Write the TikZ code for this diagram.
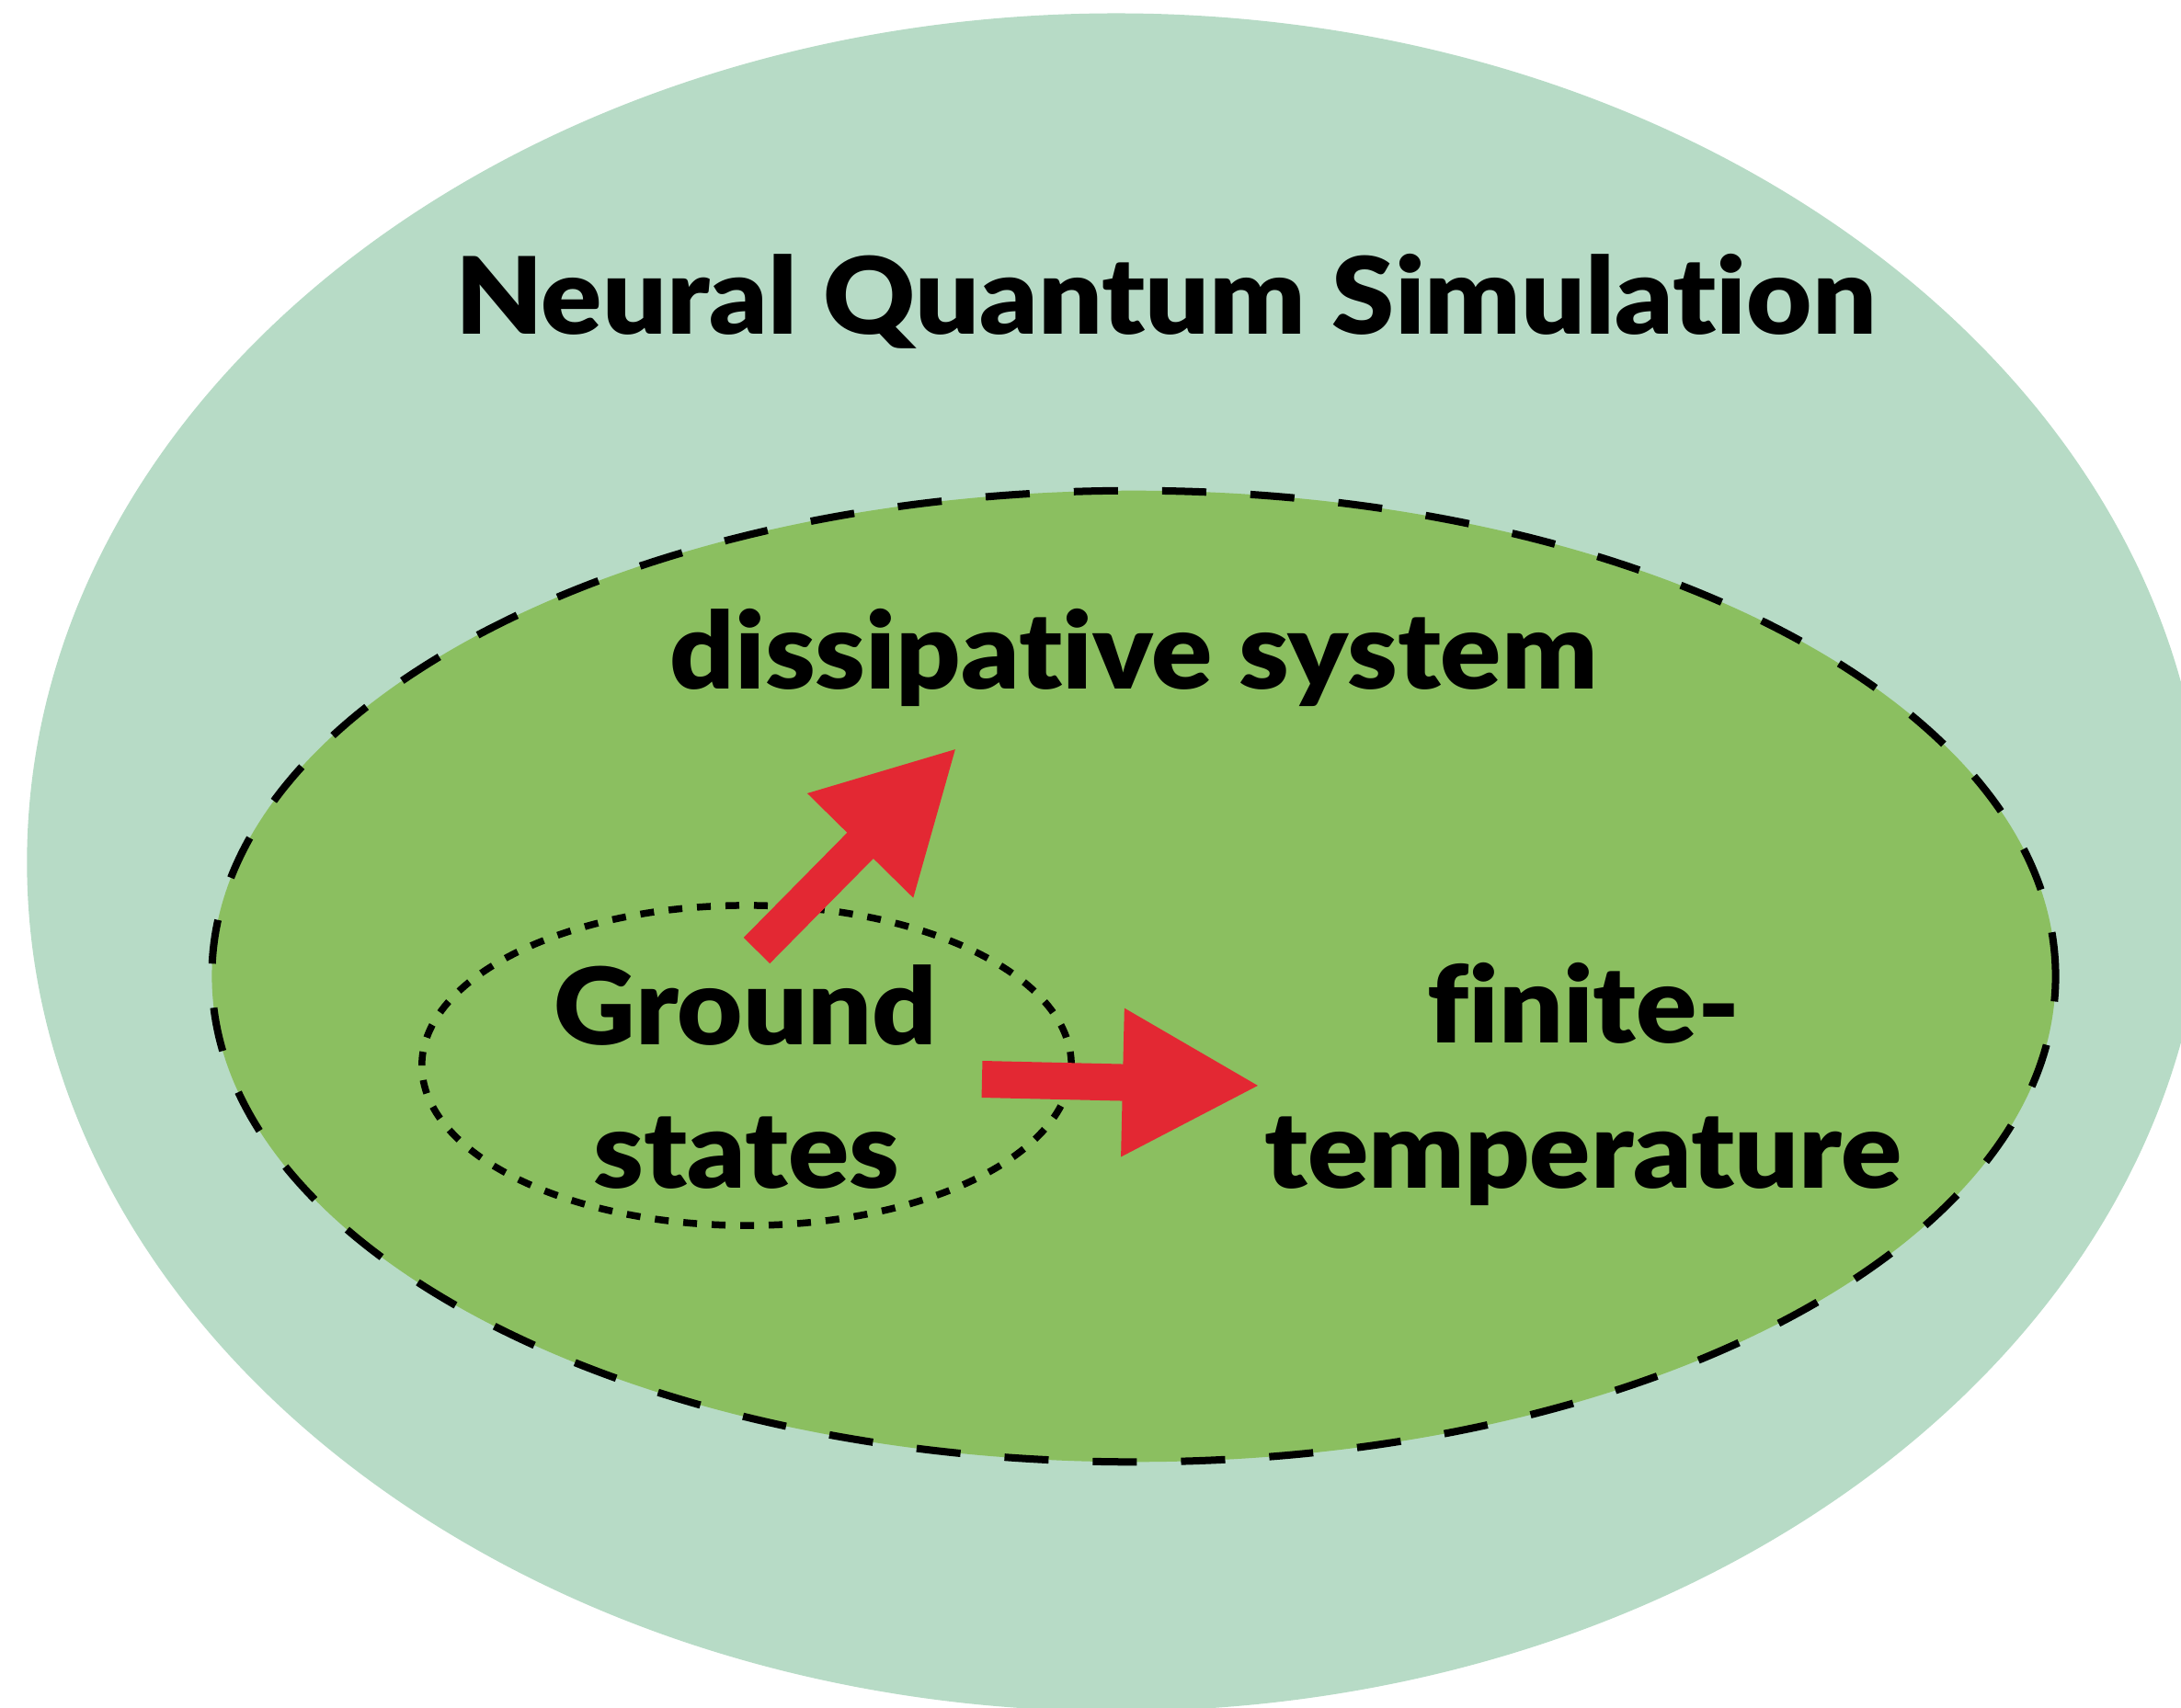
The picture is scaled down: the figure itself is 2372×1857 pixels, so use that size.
\documentclass[tikz,border=0pt]{standalone}
\usepackage{fontspec}
\setmainfont{Lato}[Ligatures=NoCommon]
\newfontfamily\heavyfont{Lato Black}[Ligatures=NoCommon, FakeStretch=1.06]
\usetikzlibrary{arrows.meta}
\definecolor{outergreen}{HTML}{B7DBC6}
\definecolor{innergreen}{HTML}{8BBF60}
\definecolor{arrowred}{HTML}{E32833}
\tikzset{
  lbl/.style={font=\fontsize{33pt}{40pt}\selectfont\heavyfont, text=black, inner sep=0pt, anchor=base},
  bigarrow/.style={arrowred, line width=0.4cm, -{Triangle[length=1.5cm, width=1.5cm]}},
  dashline/.style={line width=0.08cm, dash pattern=on 0.48cm off 0.48cm},
  dotline/.style={line width=0.075cm, dash pattern=on 0.15cm off 0.16cm}
}
\begin{document}
\begin{tikzpicture}[x=0.01cm, y=-0.01cm]
\useasboundingbox (0,0) rectangle (2372,1857);
\clip (0,0) rectangle (2372,1857);
% outer region
\fill[outergreen] (1214,938) ellipse [x radius=11.84cm, y radius=9.23cm];
% inner dashed region
\fill[innergreen] (1233,1062) ellipse [x radius=10.02cm, y radius=5.28cm];
\draw[dashline] (1233,1062) ellipse [x radius=10.02cm, y radius=5.28cm];
% dotted ground-state region
\draw[dotline] (812,1159) ellipse [x radius=3.53cm, y radius=1.74cm];
% labels
\node[lbl] (title) at (1268,363) {Neural Quantum Simulation};
\node[lbl] (diss) at (1233,749) {dissipative system};
\node[lbl] (ground) at (811,1136) {Ground};
\node[lbl] (states) at (812,1292) {states};
\node[lbl] (finite) at (1722,1134) {finite-};
\node[lbl] (temp) at (1722,1292) {temperature};
% arrows
\coordinate (a1s) at (823,1034);
\coordinate (a1e) at (1041,813);
\coordinate (a2s) at (1068,1174);
\coordinate (a2e) at (1371,1181);
\draw[bigarrow] (a1s) -- (a1e);
\draw[bigarrow] (a2s) -- (a2e);
\end{tikzpicture}
\end{document}
